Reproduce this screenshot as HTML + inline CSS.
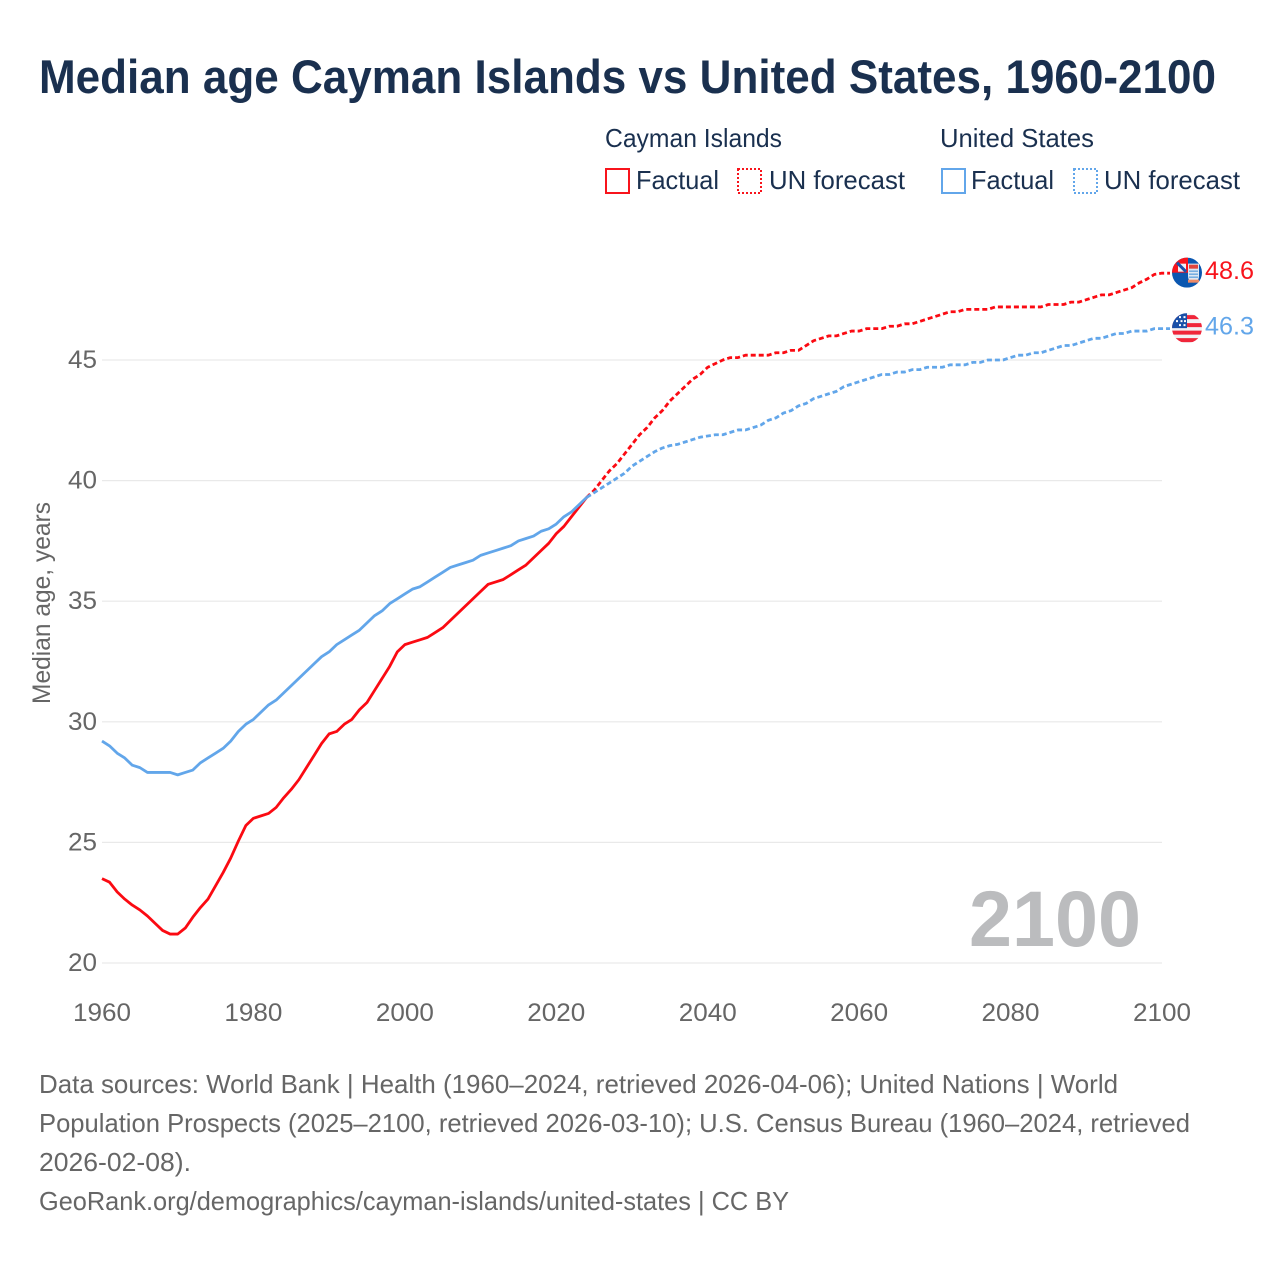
<!DOCTYPE html>
<html lang="en">
<head>
<meta charset="utf-8">
<title>Median age Cayman Islands vs United States, 1960-2100</title>
<style>
html,body{margin:0;padding:0;background:#fff;}
svg{display:block;}
text{font-family:"Liberation Sans",sans-serif;}
.tick{font-size:25px;fill:#666;}
.legend{font-size:26px;fill:#1a304f;}
.foot{font-size:26px;fill:#666;}
</style>
</head>
<body>
<svg id="chart" xmlns="http://www.w3.org/2000/svg" width="1280" height="1280" viewBox="0 0 1280 1280">
  <defs>
    <clipPath id="flag-clip"><circle cx="0" cy="0" r="15"/></clipPath>
  </defs>
  <rect width="1280" height="1280" fill="#fff"/>
  <text x="39" y="93" font-size="47" font-weight="700" fill="#1a304f" textLength="1177" lengthAdjust="spacingAndGlyphs">Median age Cayman Islands vs United States, 1960-2100</text>

  <g>
    <text class="legend" x="605" y="147" textLength="177" lengthAdjust="spacingAndGlyphs">Cayman Islands</text>
    <text class="legend" x="940" y="147" textLength="154" lengthAdjust="spacingAndGlyphs">United States</text>
    <rect x="606" y="169" width="23" height="24" fill="none" stroke="#f8141c" stroke-width="2"/>
    <text class="legend" x="636" y="189" textLength="83" lengthAdjust="spacingAndGlyphs">Factual</text>
    <rect x="738" y="169" width="23" height="24" fill="none" stroke="#f8141c" stroke-width="2" stroke-dasharray="2 2"/>
    <text class="legend" x="769" y="189" textLength="136" lengthAdjust="spacingAndGlyphs">UN forecast</text>
    <rect x="942" y="169" width="23" height="24" fill="none" stroke="#62a6ea" stroke-width="2"/>
    <text class="legend" x="971" y="189" textLength="83" lengthAdjust="spacingAndGlyphs">Factual</text>
    <rect x="1074" y="169" width="23" height="24" fill="none" stroke="#62a6ea" stroke-width="2" stroke-dasharray="2 2"/>
    <text class="legend" x="1104" y="189" textLength="136" lengthAdjust="spacingAndGlyphs">UN forecast</text>
  </g>

  <g id="grid"></g>
  <g id="yticks"></g>
  <g id="xticks"></g>
  <text transform="translate(50,603) rotate(-90)" text-anchor="middle" font-size="25" fill="#666" textLength="202" lengthAdjust="spacingAndGlyphs">Median age, years</text>
  <text x="969" y="946" font-size="79" font-weight="700" fill="#bbbcbe" textLength="172" lengthAdjust="spacingAndGlyphs">2100</text>
  <g id="series"></g>

  <g id="flag-cayman">
    <g clip-path="url(#flag-clip)">
      <rect x="-15" y="-15" width="30" height="30" fill="#0b57b0"/>
      <rect x="-15" y="-16" width="16" height="16" fill="#f8141c"/>
      <rect x="-9" y="-9" width="8" height="8" fill="#eef1f6"/>
      <path d="M-10-10 L-1-1" stroke="#1a50a8" stroke-width="3"/>
      <path d="M1-9 H12 V3 Q12 9 6.500 10 Q1 9 1 3 Z" fill="#dfe8f3"/>
      <rect x="2" y="-8" width="9" height="4" fill="#e2463f"/>
      <path d="M2-1.500 H11 M2 1.500 H11 M2 4.500 H11" stroke="#6aa5de" stroke-width="1.300"/>
      <rect x="1" y="7" width="11" height="3" fill="#ee8a66"/>
    </g>
  </g>
  <g id="flag-us">
    <g clip-path="url(#flag-clip)">
      <rect x="-15" y="-15" width="30" height="30" fill="#f1f1f4"/>
      <path d="M-15-11 H15 M-15-3 H15 M-15 4.500 H15 M-15 12 H15" stroke="#f0263a" stroke-width="4"/>
      <rect x="-15" y="-15" width="15" height="15" fill="#1a50a8"/>
      <path d="M-8-11h2M-3.500-11h2M-11-7h2M-6.500-7h2M-3-7h2M-8-3h2M-3.500-3h2" stroke="#fff" stroke-width="2"/>
    </g>
  </g>
  <text id="label-cayman" font-size="25" fill="#f8141c"></text>
  <text id="label-us" font-size="25" fill="#62a6ea"></text>

  <g>
    <text class="foot" x="39" y="1093" textLength="1079" lengthAdjust="spacingAndGlyphs">Data sources: World Bank | Health (1960–2024, retrieved 2026-04-06); United Nations | World</text>
    <text class="foot" x="39" y="1132" textLength="1151" lengthAdjust="spacingAndGlyphs">Population Prospects (2025–2100, retrieved 2026-03-10); U.S. Census Bureau (1960–2024, retrieved</text>
    <text class="foot" x="39" y="1171" textLength="152" lengthAdjust="spacingAndGlyphs">2026-02-08).</text>
    <text class="foot" x="39" y="1210" textLength="750" lengthAdjust="spacingAndGlyphs">GeoRank.org/demographics/cayman-islands/united-states | CC BY</text>
  </g>
</svg>

<script>
const factualStartYear = 1960;
const forecastStartYear = 2024;
const yTickValues = [20, 25, 30, 35, 40, 45];
const xTickValues = [1960, 1980, 2000, 2020, 2040, 2060, 2080, 2100];

const caymanFactual = [23.5,23.35,22.95,22.65,22.4,22.2,21.95,21.65,21.35,21.2,21.2,21.45,21.9,22.3,22.65,23.2,23.75,24.35,25.05,25.7,26.0,26.1,26.2,26.45,26.85,27.2,27.6,28.1,28.6,29.1,29.5,29.6,29.9,30.1,30.5,30.8,31.3,31.8,32.3,32.9,33.2,33.3,33.4,33.5,33.7,33.9,34.2,34.5,34.8,35.1,35.4,35.7,35.8,35.9,36.1,36.3,36.5,36.8,37.1,37.4,37.8,38.1,38.5,38.9,39.3];
const usFactual = [29.2,29.0,28.7,28.5,28.2,28.1,27.9,27.9,27.9,27.9,27.8,27.9,28.0,28.3,28.5,28.7,28.9,29.2,29.6,29.9,30.1,30.4,30.7,30.9,31.2,31.5,31.8,32.1,32.4,32.7,32.9,33.2,33.4,33.6,33.8,34.1,34.4,34.6,34.9,35.1,35.3,35.5,35.6,35.8,36.0,36.2,36.4,36.5,36.6,36.7,36.9,37.0,37.1,37.2,37.3,37.5,37.6,37.7,37.9,38.0,38.2,38.5,38.7,39.0,39.3];
const caymanForecast = [39.3,39.6,40.0,40.4,40.7,41.1,41.5,41.9,42.2,42.6,42.9,43.3,43.6,43.9,44.2,44.4,44.7,44.85,45.0,45.1,45.1,45.2,45.2,45.2,45.2,45.3,45.3,45.4,45.4,45.6,45.8,45.9,46.0,46.0,46.1,46.2,46.2,46.3,46.3,46.3,46.4,46.4,46.5,46.5,46.6,46.7,46.8,46.9,47.0,47.0,47.1,47.1,47.1,47.1,47.2,47.2,47.2,47.2,47.2,47.2,47.2,47.3,47.3,47.3,47.4,47.4,47.5,47.6,47.7,47.7,47.8,47.9,48.0,48.2,48.35,48.55,48.6];
const usForecast = [39.3,39.5,39.7,39.9,40.1,40.3,40.6,40.8,41.0,41.2,41.35,41.45,41.5,41.6,41.7,41.8,41.85,41.9,41.9,42.0,42.1,42.1,42.2,42.3,42.5,42.6,42.8,42.9,43.1,43.2,43.4,43.5,43.6,43.7,43.9,44.0,44.1,44.2,44.3,44.4,44.4,44.5,44.5,44.6,44.6,44.7,44.7,44.7,44.8,44.8,44.8,44.9,44.9,45.0,45.0,45.0,45.1,45.2,45.2,45.3,45.3,45.4,45.5,45.6,45.6,45.7,45.8,45.9,45.9,46.0,46.1,46.1,46.2,46.2,46.2,46.3,46.3];

const NS = 'http://www.w3.org/2000/svg';
function xScale(year) { return 102 + (year - 1960) * (1060 / 140); }
function yScale(value) { return 963 - (value - 20) * (603 / 25); }

function linePath(values, startYear, extend) {
  const pts = values.map(function (v, i) {
    return xScale(startYear + i).toFixed(2) + ' ' + yScale(v).toFixed(2);
  });
  let d = 'M' + pts.join(' L');
  if (extend) {
    d += ' L' + (xScale(startYear + values.length - 1) + 8).toFixed(2) + ' ' + yScale(values[values.length - 1]).toFixed(2);
  }
  return d;
}

const gridGroup = document.getElementById('grid');
const yGroup = document.getElementById('yticks');
const xGroup = document.getElementById('xticks');
const seriesGroup = document.getElementById('series');

yTickValues.forEach(function (t) {
  const ln = document.createElementNS(NS, 'line');
  
  
  ln.setAttribute('x1', xScale(1960));
  ln.setAttribute('x2', xScale(2100));
  ln.setAttribute('y1', yScale(t));
  ln.setAttribute('y2', yScale(t));
  ln.setAttribute('stroke', '#e9e9e9');
  ln.setAttribute('stroke-width', '1.200');
  gridGroup.appendChild(ln);

  const lb = document.createElementNS(NS, 'text');
  
  
  lb.setAttribute('class', 'tick');
  lb.setAttribute('x', '68');
  lb.setAttribute('y', yScale(t) + 8);
  lb.setAttribute('textLength', '29');
  lb.setAttribute('lengthAdjust', 'spacingAndGlyphs');
  lb.textContent = t;
  yGroup.appendChild(lb);
});

xTickValues.forEach(function (t) {
  const lb = document.createElementNS(NS, 'text');
  
  
  lb.setAttribute('class', 'tick');
  lb.setAttribute('x', xScale(t) - 29);
  lb.setAttribute('y', '1021');
  lb.setAttribute('textLength', '58');
  lb.setAttribute('lengthAdjust', 'spacingAndGlyphs');
  lb.textContent = t;
  xGroup.appendChild(lb);
});

function drawLine(name, values, startYear, color, dashed) {
  const p = document.createElementNS(NS, 'path');
  
  
  p.setAttribute('d', linePath(values, startYear, dashed));
  p.setAttribute('fill', 'none');
  p.setAttribute('stroke', color);
  p.setAttribute('stroke-width', '2.800');
  p.setAttribute('stroke-linejoin', 'round');
  if (dashed) {
    p.setAttribute('stroke-dasharray', '5 3');
  }
  seriesGroup.appendChild(p);
}

drawLine('cayman-forecast-line', caymanForecast, forecastStartYear, '#fb0a12', true);
drawLine('cayman-factual-line', caymanFactual, factualStartYear, '#fb0a12', false);
drawLine('us-forecast-line', usForecast, forecastStartYear, '#62a6ea', true);
drawLine('us-factual-line', usFactual, factualStartYear, '#62a6ea', false);

function placeEnd(flagId, labelId, values) {
  const last = values[values.length - 1];
  const yy = yScale(last);
  document.getElementById(flagId).setAttribute('transform', 'translate(1187,' + (yy - 0.5).toFixed(2) + ')');
  const lb = document.getElementById(labelId);
  lb.setAttribute('x', '1205');
  lb.setAttribute('y', (yy + 6).toFixed(2));
  lb.setAttribute('textLength', '49');
  lb.setAttribute('lengthAdjust', 'spacingAndGlyphs');
  lb.textContent = last.toFixed(1);
}
placeEnd('flag-cayman', 'label-cayman', caymanForecast);
placeEnd('flag-us', 'label-us', usForecast);
</script>
</body>
</html>
